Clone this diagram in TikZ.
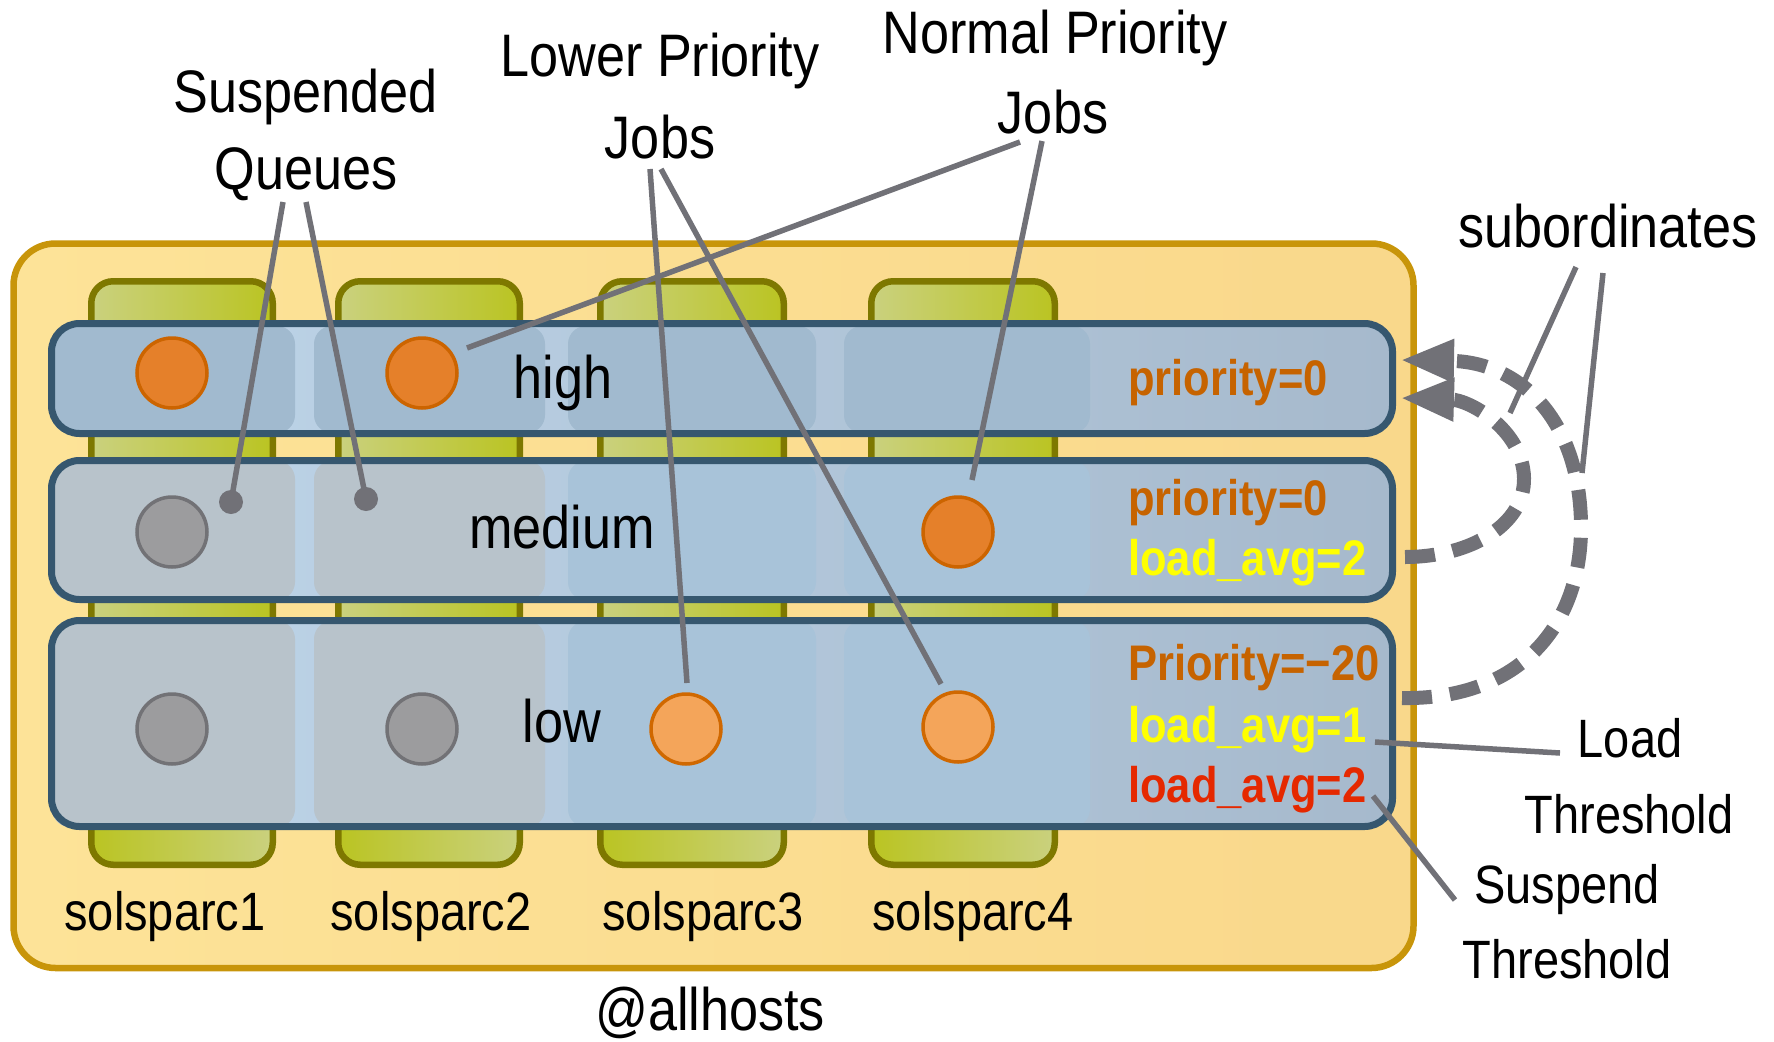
\documentclass[tikz,border=0pt]{standalone}
\usepackage{fontspec}
\setmainfont{Liberation Sans}[FakeStretch=0.87]
\usetikzlibrary{arrows.meta}
\definecolor{outerB}{HTML}{C8950A}
\definecolor{outerL}{HTML}{FDE398}
\definecolor{outerR}{HTML}{F9D88B}
\definecolor{colB}{HTML}{7E7800}
\definecolor{colL}{HTML}{CAD17E}
\definecolor{colS}{HTML}{BAC422}
\definecolor{rowB}{HTML}{36576F}
\definecolor{rowL}{HTML}{BFD6EA}
\definecolor{rowR}{HTML}{A6B9CC}
\definecolor{cellHi}{HTML}{A1BACF}
\definecolor{cellBl}{HTML}{A8C3D9}
\definecolor{cellGr}{HTML}{B8C3CB}
\definecolor{jobO}{HTML}{E5802A}
\definecolor{jobOB}{HTML}{CC6400}
\definecolor{jobL}{HTML}{F4A55A}
\definecolor{jobLB}{HTML}{D06800}
\definecolor{jobG}{HTML}{9C9C9E}
\definecolor{jobGB}{HTML}{727276}
\definecolor{conn}{HTML}{717177}
\definecolor{prioC}{HTML}{C66300}
\definecolor{yelC}{HTML}{FFFF00}
\definecolor{redC}{HTML}{E52800}
\begin{document}
\begin{tikzpicture}[x=1pt,y=-1pt,
  lbl/.style={inner sep=0pt, anchor=base, font=\fontsize{60}{72}\selectfont},
  lbls/.style={inner sep=0pt, anchor=base, font=\fontsize{54}{64}\selectfont},
  hostlbl/.style={inner sep=0pt, anchor=base, font=\fontsize{54}{64}\selectfont},
  rt/.style={inner sep=0pt, anchor=base west, font=\fontsize{50}{60}\selectfont\bfseries},
  jobhi/.style={circle, inner sep=0pt, minimum size=70pt, line width=3.5pt, fill=jobO, draw=jobOB},
  joblo/.style={circle, inner sep=0pt, minimum size=70pt, line width=3.5pt, fill=jobL, draw=jobLB},
  jobsus/.style={circle, inner sep=0pt, minimum size=70pt, line width=3.5pt, fill=jobG, draw=jobGB},
  dotn/.style={circle, inner sep=0pt, minimum size=24pt, fill=conn},
  connline/.style={draw=conn, line width=5.5pt},
  subarr/.style={draw=conn, line width=14pt, dash pattern=on 30pt off 18pt,
     -{Triangle[length=54pt,width=40pt]}},
  rowframe/.style={draw=rowB, line width=7pt, rounded corners=28pt},
  cellbox/.style={rounded corners=18pt}
]
\useasboundingbox (0,0) rectangle (1774,1041);

% outer @allhosts box
\draw[line width=6.5pt, draw=outerB, left color=outerL, right color=outerR, rounded corners=42pt]
  (13.5,243.5) rectangle (1413.5,968);

% host columns
\foreach \a/\b in {88/276,335/523,597/787,868/1058} {
  \fill[rounded corners=22pt, left color=colL, right color=colS] (\a+3.25,281.25) rectangle (\b-3.25,864.75);
  \begin{scope}
    \clip (\a-5,700) rectangle (\b+5,880);
    \fill[rounded corners=22pt, left color=colS, right color=colL] (\a+3.25,281.25) rectangle (\b-3.25,864.75);
  \end{scope}
  \draw[rounded corners=22pt, draw=colB, line width=6.5pt] (\a+3.25,281.25) rectangle (\b-3.25,864.75);
}

% queue rows: backgrounds
\fill[rounded corners=28pt, left color=rowL, right color=rowR] (51.5,323.5) rectangle (1392.5,433.5);
\fill[rounded corners=28pt, left color=rowL, right color=rowR] (51.5,460.5) rectangle (1392.5,599.5);
\fill[rounded corners=28pt, left color=rowL, right color=rowR] (51.5,620.5) rectangle (1392.5,826.5);

% cells high
\foreach \a/\b in {52/295,314/545,568/816,844/1090}
  \fill[cellbox, cellHi] (\a,326) rectangle (\b,433);
% cells medium
\fill[cellbox, cellGr] (52,461) rectangle (295,600);
\fill[cellbox, cellGr] (314,461) rectangle (545,600);
\fill[cellbox, cellBl] (568,461) rectangle (816,600);
\fill[cellbox, cellBl] (844,461) rectangle (1090,600);
% cells low
\fill[cellbox, cellGr] (52,621) rectangle (295,827);
\fill[cellbox, cellGr] (314,621) rectangle (545,827);
\fill[cellbox, cellBl] (568,621) rectangle (816,827);
\fill[cellbox, cellBl] (844,621) rectangle (1090,827);

% row frames
\draw[rowframe] (51.5,323.5) rectangle (1392.5,433.5);
\draw[rowframe] (51.5,460.5) rectangle (1392.5,599.5);
\draw[rowframe] (51.5,620.5) rectangle (1392.5,826.5);

% jobs
\node[jobhi] (jh1) at (172,373) {};
\node[jobhi] (jh2) at (422,373) {};
\node[jobsus] (jm1) at (172,532) {};
\node[jobhi] (jm4) at (958,532) {};
\node[jobsus] (jl1) at (172,729) {};
\node[jobsus] (jl2) at (422,729) {};
\node[joblo] (jl3) at (686,729) {};
\node[joblo] (jl4) at (958,727) {};

% queue names
\node[lbl] (qHigh) at (563,398) {high};
\node[lbl] (qMed) at (562,548) {medium};
\node[lbl] (qLow) at (562,742) {low};

% right side settings
\node[rt, text=prioC] (pHigh) at (1128,395) {priority=0};
\node[rt, text=prioC] (pMed) at (1128,515) {priority=0};
\node[rt, text=yelC] (lMed) at (1128,575) {load\_avg=2};
\node[rt, text=prioC] (pLow) at (1128,680) {Priority=−20};
\node[rt, text=yelC] (lLow) at (1128,742) {load\_avg=1};
\node[rt, text=redC] (sLow) at (1128,802) {load\_avg=2};

% host names
\node[hostlbl] (h1) at (165,930) {solsparc1};
\node[hostlbl] (h2) at (431,930) {solsparc2};
\node[hostlbl] (h3) at (703,930) {solsparc3};
\node[hostlbl] (h4) at (973,930) {solsparc4};
\node[lbl] (allh) at (710,1030) {@allhosts};

% callout labels
\node[lbl] (tSusp1) at (306,112) {Suspended};
\node[lbl] (tSusp2) at (306,189) {Queues};
\node[lbl] (tLow1) at (660,76) {Lower Priority};
\node[lbl] (tLow2) at (660,158) {Jobs};
\node[lbl] (tNorm1) at (1055,54) {Normal Priority};
\node[lbl] (tNorm2) at (1053,133) {Jobs};
\node[lbl] (tSub) at (1608,247) {subordinates};
\node[lbls] (tLoad1) at (1630,757) {Load};
\node[lbls] (tLoad2) at (1629,833) {Threshold};
\node[lbls] (tSusT1) at (1567,903) {Suspend};
\node[lbls] (tSusT2) at (1567,978) {Threshold};

% connector end points
\coordinate (sqA) at (283,202);
\coordinate (sqB) at (306,202);
\node[dotn] (dotA) at (231,502) {};
\node[dotn] (dotB) at (366,499) {};
\coordinate (lpA) at (650,169);
\coordinate (lpB) at (661,169);
\coordinate (lpAe) at (687,683);
\coordinate (lpBe) at (941,684);
\coordinate (npA) at (1020,142);
\coordinate (npB) at (1042,141);
\coordinate (npAe) at (467,348);
\coordinate (npBe) at (972,480);
\coordinate (sbA) at (1576,267);
\coordinate (sbB) at (1603,273);
\coordinate (sbAe) at (1510,413);
\coordinate (sbBe) at (1582,473);
\coordinate (ldA) at (1560,753);
\coordinate (ldAe) at (1375,742);
\coordinate (ssA) at (1455,900);
\coordinate (ssAe) at (1373,796);

\draw[connline] (sqA) -- (dotA.center);
\draw[connline] (sqB) -- (dotB.center);
\draw[connline] (lpA) -- (lpAe);
\draw[connline] (lpB) -- (lpBe);
\draw[connline] (npA) -- (npAe);
\draw[connline] (npB) -- (npBe);
\draw[connline] (sbA) -- (sbAe);
\draw[connline] (sbB) -- (sbBe);
\draw[connline] (ldA) -- (ldAe);
\draw[connline] (ssA) -- (ssAe);

% subordination arrows
\coordinate (subLowS) at (1402,698);
\coordinate (subMedS) at (1405,557);
\coordinate (subT1) at (1400,360);
\coordinate (subT2) at (1400,398);
\draw[subarr] (subLowS) .. controls (1520,700) and (1582,625) .. (1581,525)
   .. controls (1580,420) and (1520,362) .. (subT1);
\draw[subarr] (subMedS) .. controls (1470,557) and (1525,525) .. (1524,478)
   .. controls (1523,430) and (1470,400) .. (subT2);
\end{tikzpicture}
\end{document}
